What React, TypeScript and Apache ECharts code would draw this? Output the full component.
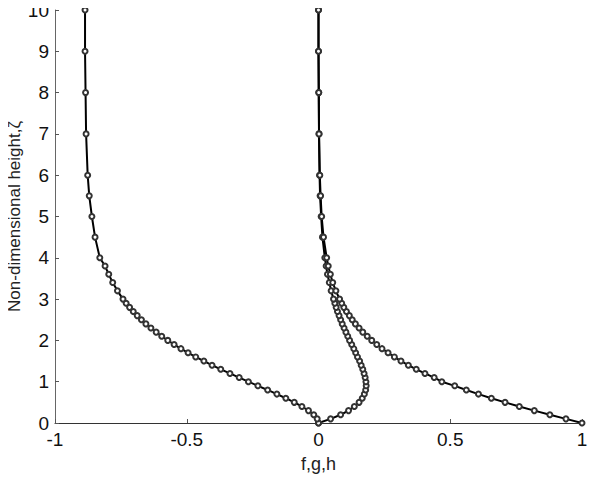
import React, { useEffect, useRef } from "react";
import * as echarts from "echarts";

const zeta = [0, 0.1, 0.2, 0.3, 0.4, 0.5, 0.6, 0.7, 0.8, 0.9, 1.0, 1.1, 1.2, 1.3, 1.4, 1.5, 1.6, 1.7, 1.8, 1.9, 2.0, 2.1, 2.2, 2.3, 2.4, 2.5, 2.6, 2.7, 2.8, 2.9, 3.0, 3.2, 3.4, 3.6, 3.8, 4.0, 4.5, 5.0, 5.5, 6.0, 7.0, 8.0, 9.0, 10.0];
const fVals = [0, 0.046, 0.084, 0.114, 0.136, 0.154, 0.166, 0.174, 0.179, 0.181, 0.18, 0.177, 0.173, 0.168, 0.162, 0.156, 0.148, 0.141, 0.134, 0.126, 0.118, 0.111, 0.104, 0.097, 0.09, 0.084, 0.078, 0.072, 0.067, 0.062, 0.057, 0.048, 0.041, 0.034, 0.029, 0.024, 0.015, 0.01, 0.006, 0.004, 0.002, 0.001, 0.0, 0.0];
const gVals = [1, 0.939, 0.878, 0.819, 0.762, 0.708, 0.656, 0.607, 0.561, 0.517, 0.468, 0.439, 0.404, 0.371, 0.341, 0.313, 0.288, 0.264, 0.241, 0.221, 0.202, 0.185, 0.168, 0.154, 0.14, 0.128, 0.117, 0.106, 0.096, 0.088, 0.08, 0.066, 0.054, 0.045, 0.037, 0.031, 0.019, 0.012, 0.008, 0.005, 0.002, 0.001, 0.0, 0.0];
const hVals = [0, -0.005, -0.018, -0.038, -0.063, -0.092, -0.124, -0.158, -0.193, -0.23, -0.266, -0.301, -0.336, -0.371, -0.404, -0.435, -0.466, -0.495, -0.522, -0.548, -0.572, -0.595, -0.616, -0.636, -0.655, -0.672, -0.688, -0.703, -0.717, -0.73, -0.742, -0.763, -0.781, -0.796, -0.81, -0.83, -0.848, -0.86, -0.87, -0.876, -0.882, -0.884, -0.886, -0.886];

const xTicks = [-1, -0.5, 0, 0.5, 1];
const yTicks = [0, 1, 2, 3, 4, 5, 6, 7, 8, 9, 10];

const FONT = "'Liberation Sans', Arial, sans-serif";

function makeSeries(name: string, vals: number[]) {
  return {
    name,
    type: "line",
    data: vals.map((v, i) => [v, zeta[i]]),
    symbol: "emptyCircle",
    symbolSize: 5,
    showSymbol: true,
    showAllSymbol: true,
    lineStyle: { color: "#000", width: 2 },
    itemStyle: { color: "#333", borderWidth: 1 },
    z: 3,
  };
}

export default function App() {
  const ref = useRef<HTMLDivElement>(null);
  useEffect(() => {
    if (!ref.current) return;
    const chart = echarts.init(ref.current, null, { renderer: "svg" });
    chart.setOption({
      animation: false,
      backgroundColor: "#fff",
      grid: { left: 55, right: 27, top: 10, bottom: 65, containLabel: false, outerBoundsMode: "none" },
      xAxis: {
        type: "value",
        min: xTicks[0],
        max: xTicks[xTicks.length - 1],
        interval: 0.5,
        name: "f,g,h",
        nameLocation: "middle",
        nameGap: 32,
        nameMoveOverlap: false,
        nameTextStyle: { fontFamily: FONT, fontSize: 18, color: "#222" },
        axisLine: { onZero: false, lineStyle: { color: "#333", width: 1 } },
        axisTick: { inside: true, length: 4, lineStyle: { color: "#555" } },
        axisLabel: {
          fontFamily: FONT,
          fontSize: 19,
          color: "#111",
          margin: 7,
          formatter: (v: number) => String(v),
        },
        splitLine: { show: false },
      },
      yAxis: {
        type: "value",
        min: yTicks[0],
        max: yTicks[yTicks.length - 1],
        interval: 1,
        name: "Non-dimensional height,ζ",
        nameLocation: "middle",
        nameGap: 32,
        nameMoveOverlap: false,
        nameTextStyle: { fontFamily: FONT, fontSize: 17, color: "#222" },
        axisLine: { onZero: false, lineStyle: { color: "#666", width: 1 } },
        axisTick: { inside: true, length: 4, lineStyle: { color: "#555" } },
        axisLabel: { fontFamily: FONT, fontSize: 19, color: "#111", margin: 6 },
        splitLine: { show: false },
      },
      series: [makeSeries("f", fVals), makeSeries("g", gVals), makeSeries("h", hVals)],
    });
    return () => chart.dispose();
  }, []);
  return <div ref={ref} style={{ width: 609, height: 488, margin: -8 }} />;
}
